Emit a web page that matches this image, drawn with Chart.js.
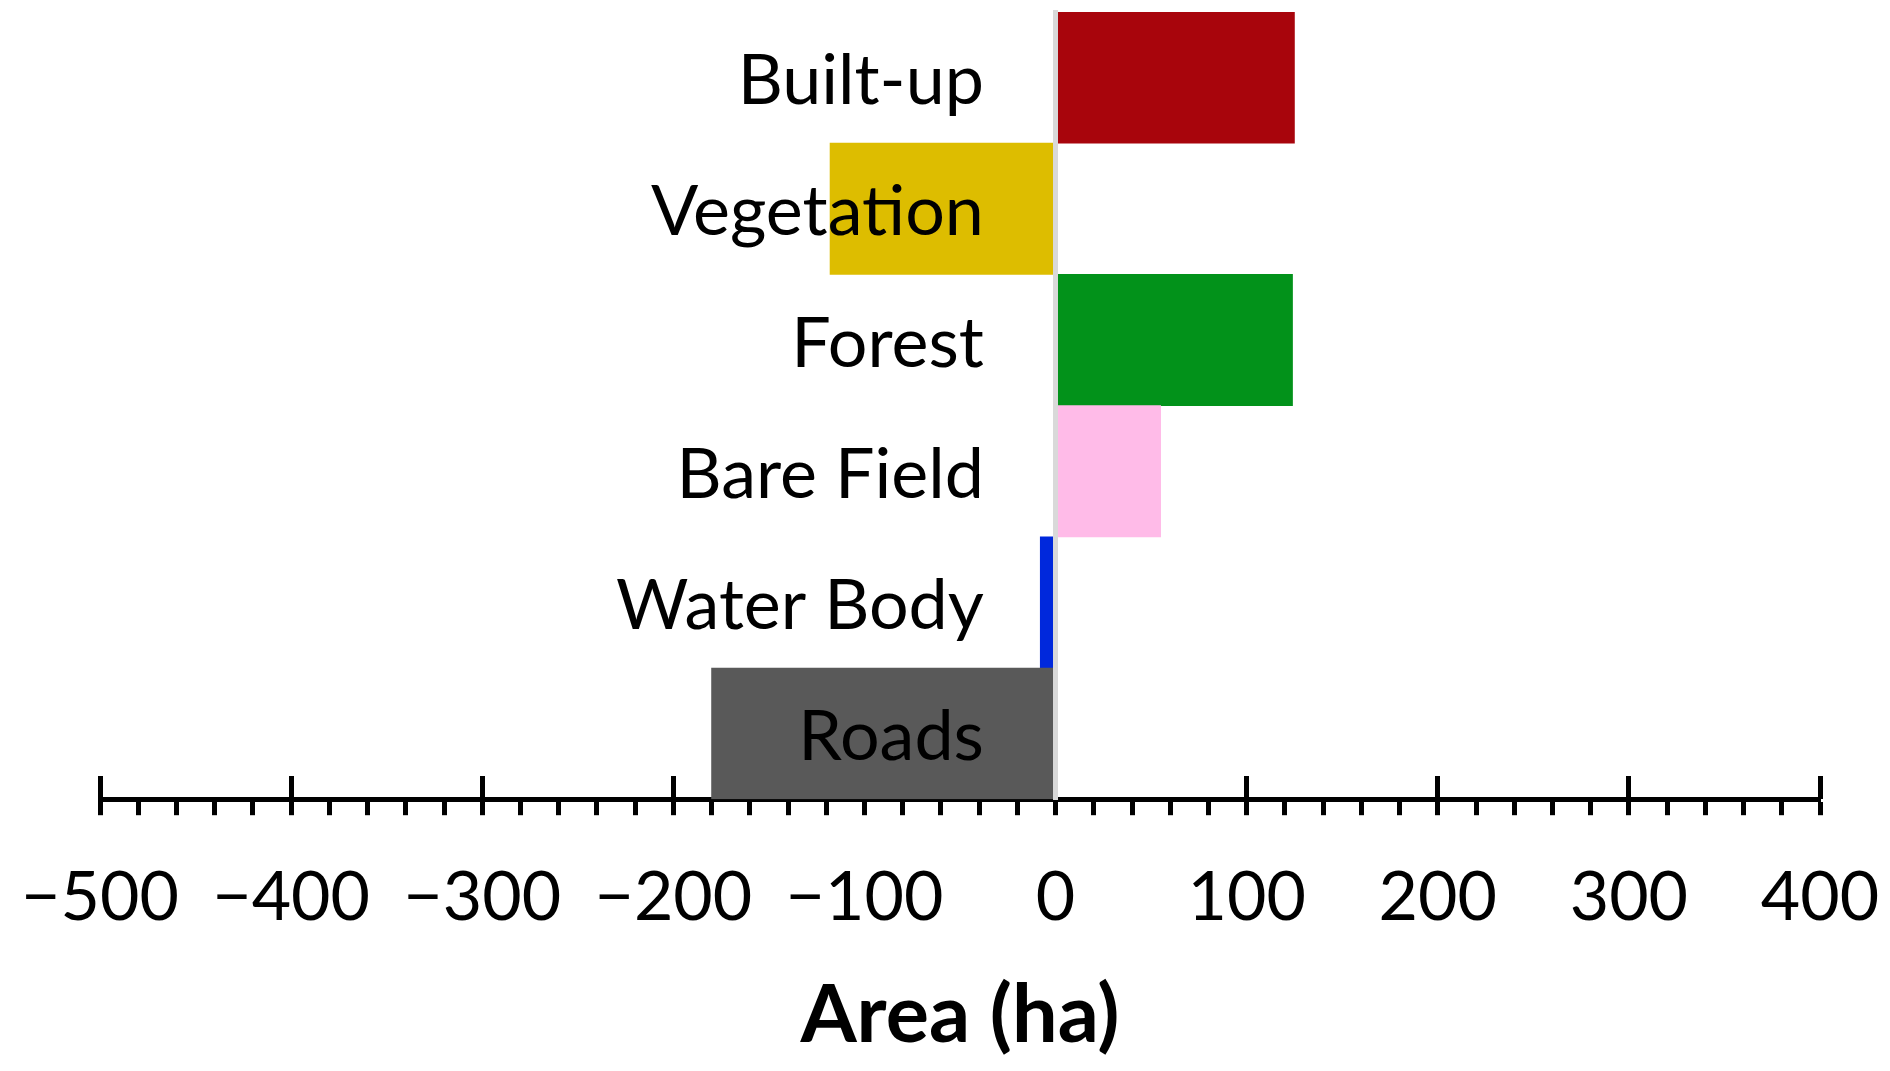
<!DOCTYPE html>
<html><head><meta charset="utf-8">
<script src="https://cdn.jsdelivr.net/npm/chart.js@4"></script>
<style>html,body{margin:0;padding:0;background:#fff}#wrap{width:1890px;height:1071px;position:relative}</style>
</head><body><div id="wrap"><canvas id="c"></canvas></div>
<script>
const categories = ['Built-up', 'Vegetation', 'Forest', 'Bare Field', 'Water Body', 'Roads'];
const areaChange = [125, -118, 124, 55, -8, -180];
const barColors = ['#A8050C', '#DDBD00', '#02921A', '#FFBBE8', '#0028DC', '#595959'];
const xMin = -500;
const xMax = 400;
const majorStep = 100;
const minorStep = 20;
const axisTitle = 'Area (ha)';

const FONT = 'Lato, "Noto Sans", sans-serif';
const fmt = v => (v < 0 ? '\u2212' + Math.abs(v) : String(v));

new Chart(document.getElementById('c'), {
  type: 'bar',
  data: {
    labels: categories,
    datasets: [{
      data: areaChange,
      backgroundColor: barColors,
      borderWidth: 0,
      barPercentage: 1,
      categoryPercentage: 1
    }]
  },
  options: {
    indexAxis: 'y',
    responsive: true,
    maintainAspectRatio: false,
    animation: false,
    layout: { padding: { top: 12, left: 100, right: 70, bottom: 0 } },
    plugins: { legend: { display: false }, tooltip: { enabled: false } },
    scales: {
      x: {
        type: 'linear',
        position: 'bottom',
        min: xMin, max: xMax,
        ticks: {
          stepSize: minorStep,
          autoSkip: false,
          maxRotation: 0,
          padding: 10,
          color: '#000',
          font: { family: FONT, size: 68, lineHeight: 2.147 },
          callback: v => (v % majorStep === 0 ? fmt(v) : '')
        },
        grid: { drawOnChartArea: false, drawTicks: true, tickLength: 16, tickColor: '#000', tickWidth: 5 },
        border: { display: true, color: '#000', width: 5 },
        title: {
          display: true, text: axisTitle, color: '#000',
          font: { family: FONT, size: 81, weight: 'bold', lineHeight: 0.8 },
          padding: { top: 2, bottom: 23 }
        }
      },
      x2: {
        type: 'linear',
        position: { y: 5.5 },
        min: xMin, max: xMax,
        ticks: { stepSize: majorStep, display: false },
        grid: { drawOnChartArea: false, drawTicks: true, tickLength: -23, tickColor: '#000', tickWidth: 5 },
        border: { display: false }
      },
      y: {
        type: 'category',
        position: { x: 0 },
        grid: { drawOnChartArea: false, drawTicks: false },
        border: { display: true, color: '#D9D9D9', width: 5, z: 1 },
        ticks: { display: false, padding: 0 }
      },
      y2: {
        type: 'category',
        labels: categories,
        position: { x: -37.5 },
        offset: true,
        grid: { display: false, drawOnChartArea: false, drawTicks: false },
        border: { display: false },
        ticks: {
          z: 1,
          padding: 0,
          labelOffset: 4,
          color: '#000',
          font: { family: FONT, size: 70, lineHeight: 0.3 }
        }
      }
    }
  }
});
</script></body></html>
